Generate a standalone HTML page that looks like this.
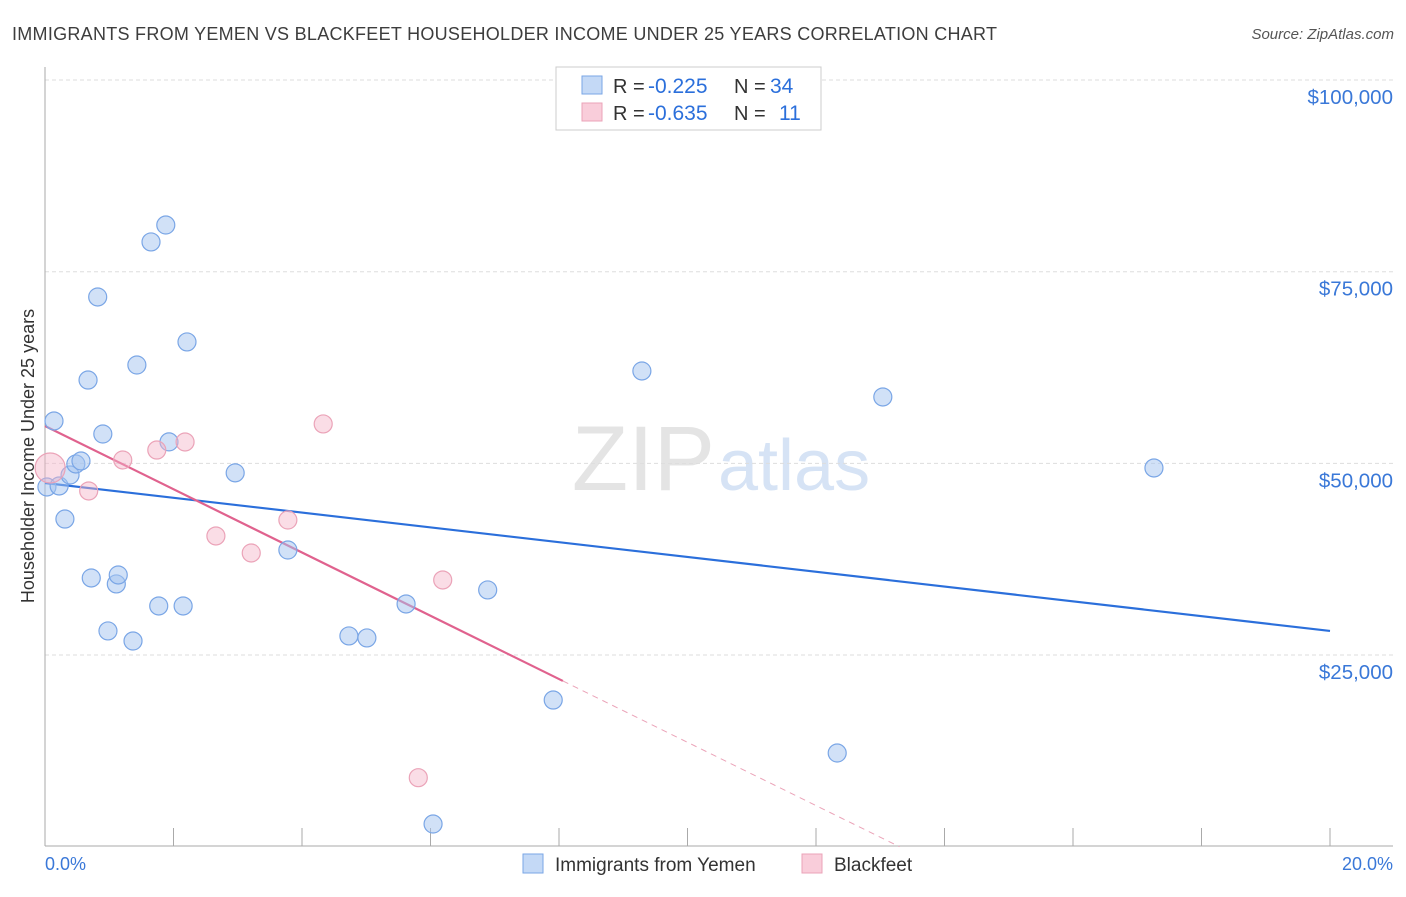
<!DOCTYPE html>
<html><head><meta charset="utf-8"><style>
body{margin:0;background:#fff;font-family:"Liberation Sans",sans-serif}
svg text{font-family:"Liberation Sans",sans-serif}
</style></head><body>
<svg id="c" width="1406" height="892">
<text x="12" y="40" font-size="18" fill="#3d3d3d" textLength="985">IMMIGRANTS FROM YEMEN VS BLACKFEET HOUSEHOLDER INCOME UNDER 25 YEARS CORRELATION CHART</text>
<text x="1394" y="39" font-size="15" fill="#555" font-style="italic" text-anchor="end">Source: ZipAtlas.com</text>
<text x="715" y="490" font-size="92" fill="#e4e4e4" text-anchor="end" font-family="Liberation Serif">ZIP</text>
<text x="718" y="490" font-size="72" fill="#d6e3f5">atlas</text>
<g id="grid"></g><g id="axes"></g><g id="lines"></g><g id="pts"></g>
<g>
<rect x="556" y="67" width="265" height="63" fill="#fff" stroke="#ccc"/>
<rect x="582" y="76" width="20" height="18" fill="#c4d9f6" stroke="#7aa6e6"/>
<text x="613" y="93" font-size="20" fill="#333">R =</text>
<text x="648" y="93" font-size="21" fill="#2b6fdb">-0.225</text>
<text x="734" y="93" font-size="20" fill="#333">N =</text>
<text x="770" y="93" font-size="21" fill="#2b6fdb">34</text>
<rect x="582" y="103" width="20" height="18" fill="#f9cdda" stroke="#eba3b8"/>
<text x="613" y="120" font-size="20" fill="#333">R =</text>
<text x="648" y="120" font-size="21" fill="#2b6fdb">-0.635</text>
<text x="734" y="120" font-size="20" fill="#333">N =</text>
<text x="779" y="120" font-size="21" fill="#2b6fdb">11</text>
</g>
<text transform="translate(34,456) rotate(-90)" font-size="18" fill="#333" text-anchor="middle">Householder Income Under 25 years</text>
<text x="45" y="870" font-size="18" fill="#3a78d8">0.0%</text>
<text x="1393" y="870" font-size="18" fill="#3a78d8" text-anchor="end">20.0%</text>
<g>
<rect x="523" y="854" width="20" height="19" fill="#c4d9f6" stroke="#7aa6e6"/>
<text x="555" y="871" font-size="19" fill="#333">Immigrants from Yemen</text>
<rect x="802" y="854" width="20" height="19" fill="#f9cdda" stroke="#eba3b8"/>
<text x="834" y="871" font-size="19" fill="#333">Blackfeet</text>
</g>
</svg>
<script>
const yTicks=[25000,50000,75000,100000];
const yTickLabels=["$25,000","$50,000","$75,000","$100,000"];
const blueX=[0.14,0.03,0.22,0.39,0.48,0.56,0.31,0.67,0.82,0.72,1.11,1.14,0.90,0.98,1.37,1.43,1.65,1.88,1.77,2.15,2.21,1.93,2.96,3.78,4.73,5.01,5.62,6.89,6.04,7.91,9.29,12.33,13.04,17.26];
const blueY=[55530,46920,47050,48480,49920,50310,42740,60870,71700,35050,34270,35440,53830,28140,26830,62830,78880,81090,31400,31400,65840,52800,48760,38700,27490,27230,31660,33490,2960,19130,62050,12220,58660,49400];
const pinkX=[0.08,0.68,1.21,1.74,2.18,2.66,3.21,3.78,4.33,6.19,5.81];
const pinkY=[49400,46400,50440,51740,52790,40530,38310,42610,55140,34790,9000];
const blueTrend=[[0,47440],[20,28140]];
const pinkTrend=[[0,54880],[8.06,21620]];
const pinkTrendExt=[[8.06,21620],[13.3,0]];
const NS="http://www.w3.org/2000/svg";
const X=v=>45+v*64.25, Y=v=>846.7-v*0.0076667;
function mk(p,t,a){const e=document.createElementNS(NS,t);for(const k in a)e.setAttribute(k,a[k]);document.getElementById(p).appendChild(e);return e;}
yTicks.forEach((t,i)=>{
 const g=mk('grid','line',{x1:45,x2:1393,y1:Y(t),y2:Y(t),stroke:'#ddd','stroke-dasharray':'4,3'});
 
 
 const l=mk('grid','text',{x:1393,y:Y(t)+24,'font-size':20.5,fill:'#3a78d8','text-anchor':'end'});
 l.textContent=yTickLabels[i];
 
 
});
const ya=mk('axes','line',{x1:45,x2:45,y1:67,y2:846,stroke:'#aaa'});


const xa=mk('axes','line',{x1:45,x2:1393,y1:846,y2:846,stroke:'#aaa'});


for(let i=0;i<=10;i++){const t=mk('axes','line',{x1:X(i*2),x2:X(i*2),y1:828,y2:846,stroke:'#aaa'});
 
 }
function ln(d,c,w,dash,name){const a={x1:X(d[0][0]),y1:Y(d[0][1]),x2:X(d[1][0]),y2:Y(d[1][1]),stroke:c,'stroke-width':w};if(dash)a['stroke-dasharray']=dash;const e=mk('lines','line',a);
 
 }
ln(blueTrend,'#2b6fdb',2.2,null,'yemen-trend-line');
ln(pinkTrend,'#e0628e',2.2,null,'blackfeet-trend-line');
ln(pinkTrendExt,'#eba3b8',1,'6,5','blackfeet-trend-extension');
blueX.forEach((x,i)=>{const c=mk('pts','circle',{cx:X(x),cy:Y(blueY[i]),r:9,fill:'rgba(164,196,240,0.5)',stroke:'#7aa6e6','stroke-width':1.2});
 
 });
pinkX.forEach((x,i)=>{const c=mk('pts','circle',{cx:X(x),cy:Y(pinkY[i]),r:i==0?15:9,fill:'rgba(245,180,200,0.45)',stroke:'#eba3b8','stroke-width':1.2});
 
 });
</script>
</body></html>
